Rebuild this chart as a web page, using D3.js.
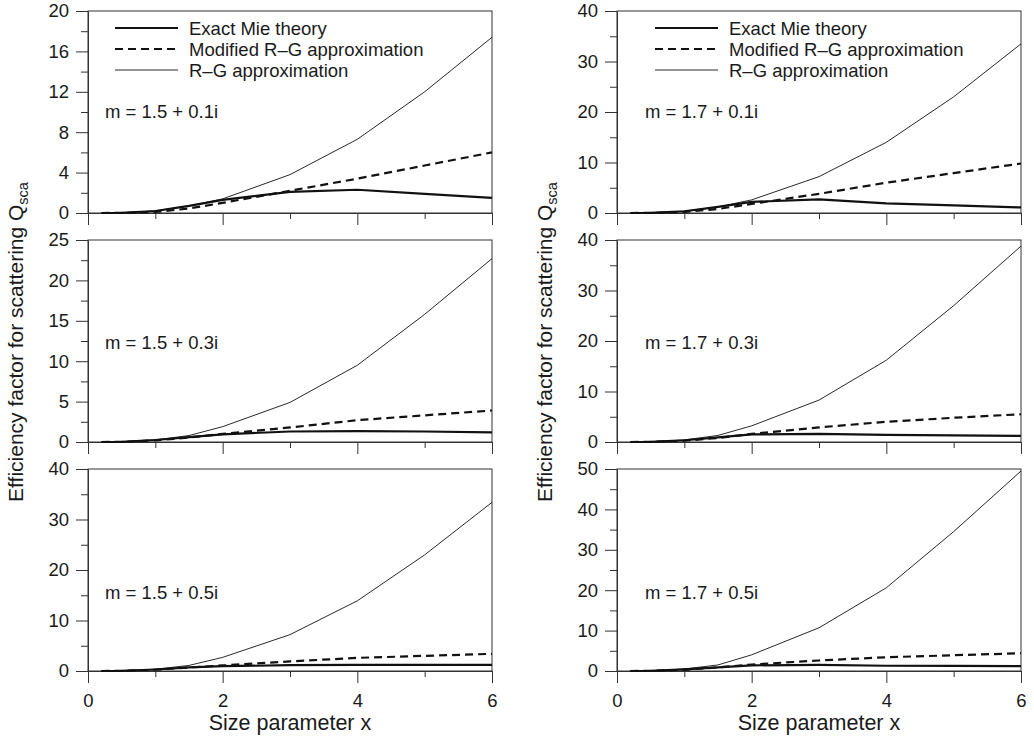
<!DOCTYPE html>
<html>
<head>
<meta charset="utf-8">
<script src="https://cdn.jsdelivr.net/npm/d3@7"></script>
<style>
  body { margin: 0; background: #fff; }
  svg { font-family: "Liberation Sans", Arial, sans-serif; }
  .axis text { font-size: 18.5px; fill: #1a1a1a; }
  .axis line, .axis path { stroke: #333; }
</style>
</head>
<body>
<div id="chart"></div>
<script>
// size parameter x where curves were computed
let sizeX = [0.2, 0.5, 1, 1.5, 2, 3, 4, 5, 6]

let seriesNames = ["Exact Mie theory", "Modified R\u2013G approximation", "R\u2013G approximation"]
let panelLabels = ["m = 1.5 + 0.1i", "m = 1.7 + 0.1i", "m = 1.5 + 0.3i", "m = 1.7 + 0.3i", "m = 1.5 + 0.5i", "m = 1.7 + 0.5i"]

// m = 1.5 + 0.1i
let exact15_01 = [0, 0.02, 0.2, 0.7, 1.3, 2.1, 2.3, 1.9, 1.5]
let modRG15_01 = [0, 0.01, 0.1, 0.45, 1.0, 2.2, 3.4, 4.7, 6.0]
let rg15_01 = [0, 0.02, 0.2, 0.7, 1.4, 3.8, 7.3, 12.0, 17.4]
// m = 1.7 + 0.1i
let exact17_01 = [0, 0.03, 0.35, 1.2, 2.2, 2.7, 1.9, 1.5, 1.1]
let modRG17_01 = [0, 0.02, 0.2, 0.8, 1.8, 3.8, 6.0, 7.9, 9.8]
let rg17_01 = [0, 0.03, 0.35, 1.2, 2.6, 7.2, 14.0, 23.0, 33.5]
// m = 1.5 + 0.3i
let exact15_03 = [0, 0.02, 0.25, 0.6, 0.95, 1.3, 1.35, 1.3, 1.2]
let modRG15_03 = [0, 0.02, 0.2, 0.55, 1.0, 1.8, 2.7, 3.3, 3.9]
let rg15_03 = [0, 0.02, 0.25, 0.8, 1.9, 4.9, 9.5, 15.8, 22.7]
// m = 1.7 + 0.3i
let exact17_03 = [0, 0.03, 0.35, 0.9, 1.5, 1.6, 1.4, 1.3, 1.2]
let modRG17_03 = [0, 0.02, 0.25, 0.8, 1.6, 2.9, 4.0, 4.8, 5.5]
let rg17_03 = [0, 0.03, 0.4, 1.3, 3.2, 8.3, 16.2, 27.0, 38.8]
// m = 1.5 + 0.5i
let exact15_05 = [0, 0.02, 0.3, 0.7, 0.95, 1.15, 1.2, 1.2, 1.2]
let modRG15_05 = [0, 0.02, 0.25, 0.7, 1.1, 1.9, 2.6, 3.0, 3.4]
let rg15_05 = [0, 0.03, 0.35, 1.1, 2.7, 7.2, 13.9, 23.0, 33.4]
// m = 1.7 + 0.5i
let exact17_05 = [0, 0.03, 0.4, 0.9, 1.4, 1.5, 1.3, 1.25, 1.2]
let modRG17_05 = [0, 0.02, 0.3, 0.9, 1.6, 2.6, 3.4, 3.9, 4.4]
let rg17_05 = [0, 0.04, 0.5, 1.5, 4.0, 10.7, 20.6, 34.5, 49.5]

// y axis ranges and tick steps per panel
let yMax = [20, 40, 25, 40, 40, 50]
let yMajor = [4, 10, 5, 10, 10, 10]
let xMajorTicks = [0, 2, 4, 6]
let xMinorTicks = [1, 3, 5]

let panelSeries = [
    [exact15_01, modRG15_01, rg15_01],
    [exact17_01, modRG17_01, rg17_01],
    [exact15_03, modRG15_03, rg15_03],
    [exact17_03, modRG17_03, rg17_03],
    [exact15_05, modRG15_05, rg15_05],
    [exact17_05, modRG17_05, rg17_05]
]

let w = 1034, h = 738
let colLeft = [88, 617]
let rowTop = [11, 240, 469]
let pw = 404, ph = 202
let labelDy = [107, 109, 130]
let labelDx = [17, 28]

let lineStyles = [
    { width: 2.2, dash: null },
    { width: 2.2, dash: "8,5" },
    { width: 0.9, dash: null }
]

let svg = d3.select("#chart").append("svg").attr("width", w).attr("height", h)

let xScale = d3.scaleLinear().domain([0, 6]).range([0, pw])

panelSeries.forEach((series, i) => {
    let col = i % 2
    let row = Math.floor(i / 2)
    let g = svg.append("g").attr("transform", "translate(" + colLeft[col] + "," + rowTop[row] + ")")

    let yScale = d3.scaleLinear().domain([0, yMax[i]]).range([ph, 0])
    let major = d3.range(0, yMax[i] + 0.001, yMajor[i])
    let minor = d3.range(yMajor[i] / 2, yMax[i], yMajor[i])

    // frame
    g.append("rect").attr("width", pw).attr("height", ph)
        .attr("fill", "none").attr("stroke", "#333").attr("stroke-width", 1)

    g.append("g").attr("class", "axis")
        .call(d3.axisLeft(yScale).tickValues(major).tickSize(12).tickSizeOuter(0).tickPadding(7).tickFormat(d3.format("d")))
    g.append("g").attr("class", "axis")
        .call(d3.axisLeft(yScale).tickValues(minor).tickSize(7).tickFormat(""))
        .select(".domain").remove()

    let xAxis = d3.axisBottom(xScale).tickValues(xMajorTicks).tickSize(12).tickSizeOuter(0).tickPadding(11).tickFormat(d3.format("d"))
    if (row < 2) xAxis.tickFormat("")
    g.append("g").attr("class", "axis").attr("transform", "translate(0," + ph + ")").call(xAxis)
    g.append("g").attr("class", "axis").attr("transform", "translate(0," + ph + ")")
        .call(d3.axisBottom(xScale).tickValues(xMinorTicks).tickSize(6).tickFormat(""))
        .select(".domain").remove()

    let line = d3.line().x((d, k) => xScale(sizeX[k])).y(d => yScale(d))

    series.forEach((vals, s) => {
        g.append("path")
            .datum(vals)
            .attr("d", line)
            .attr("fill", "none")
            .attr("stroke", "#111")
            .attr("stroke-width", lineStyles[s].width)
            .attr("stroke-dasharray", lineStyles[s].dash)
            .attr("stroke-linejoin", "round")
    })

    g.append("text")
        .attr("x", labelDx[col])
        .attr("y", labelDy[row])
        .attr("font-size", 18.5)
        .attr("fill", "#1a1a1a")
        .text(panelLabels[i])

    if (row == 0) {
        seriesNames.forEach((name, s) => {
            let ly = 17 + s * 21
            g.append("line")
                .attr("x1", labelDx[col] + 10).attr("x2", labelDx[col] + 73)
                .attr("y1", ly).attr("y2", ly)
                .attr("stroke", "#111")
                .attr("stroke-width", lineStyles[s].width)
                .attr("stroke-dasharray", lineStyles[s].dash)
            g.append("text")
                .attr("x", labelDx[col] + 84)
                .attr("y", ly + 6.5)
                .attr("font-size", 18.5)
                .attr("fill", "#1a1a1a")
                .text(name)
        })
    }
})

// axis titles
colLeft.forEach((left, col) => {
    svg.append("text")
        .attr("x", left + pw / 2)
        .attr("y", 730)
        .attr("text-anchor", "middle")
        .attr("font-size", 21.5)
        .attr("fill", "#1a1a1a")
        .text("Size parameter x")

    let yt = svg.append("text")
        .attr("transform", "translate(" + (left - 65) + ",342) rotate(-90)")
        .attr("text-anchor", "middle")
        .attr("font-size", 21)
        .attr("fill", "#1a1a1a")
    yt.append("tspan").text("Efficiency factor for scattering Q")
    yt.append("tspan").attr("font-size", 14.5).attr("dy", 5).text("sca")
})
</script>
</body>
</html>
